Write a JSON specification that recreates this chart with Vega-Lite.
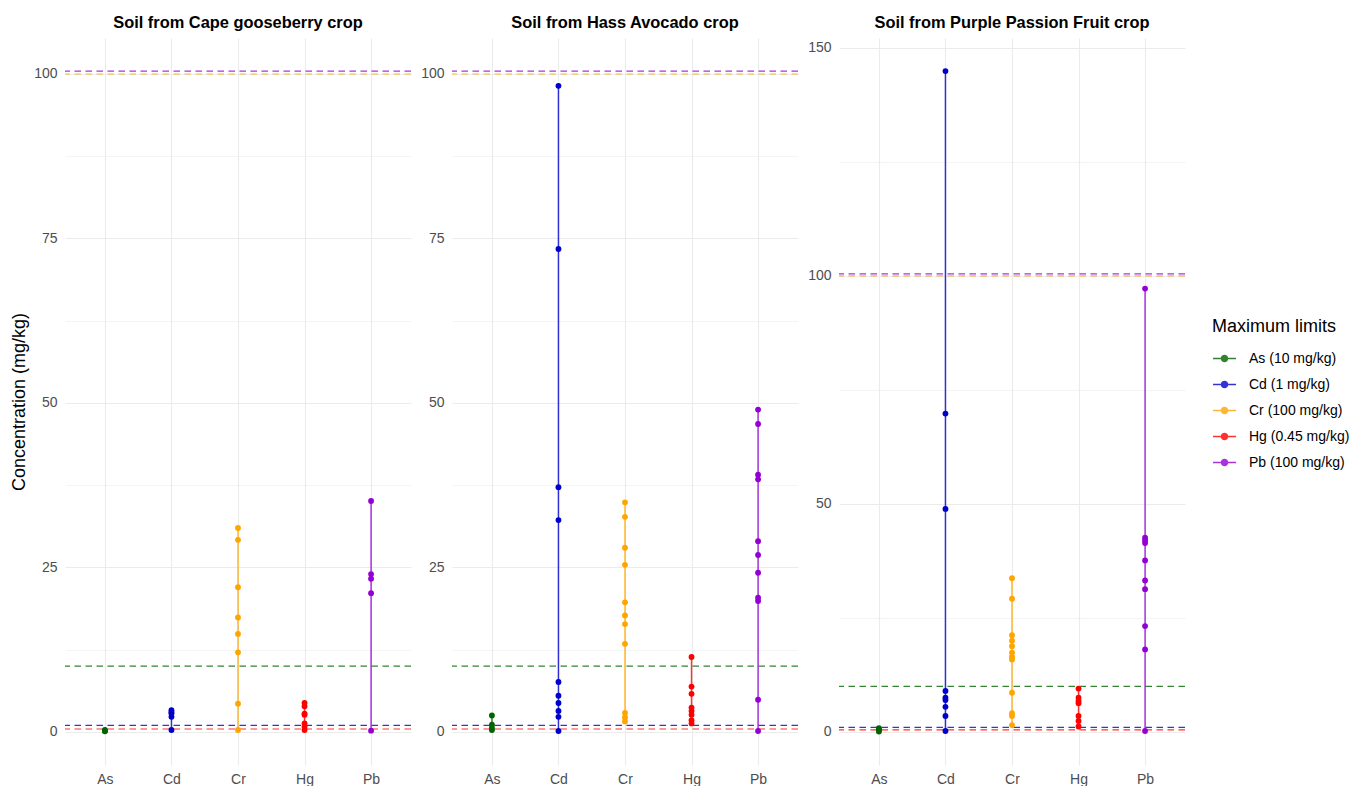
{
  "$schema": "https://vega.github.io/schema/vega-lite/v6.json",
  "background": "white",
  "padding": {"left": 10, "top": 14, "right": 0, "bottom": 0},
  "datasets": {
    "limits": [
      {"element": "As", "limit": 10},
      {"element": "Cd", "limit": 1},
      {"element": "Cr", "limit": 100},
      {"element": "Hg", "limit": 0.45},
      {"element": "Pb", "limit": 100.45}
    ],
    "samples": [
      {"crop": "Cape gooseberry", "element": "As", "value": 0.1},
      {"crop": "Cape gooseberry", "element": "As", "value": 0.2},
      {"crop": "Cape gooseberry", "element": "As", "value": 0.3},
      {"crop": "Cape gooseberry", "element": "Cd", "value": 3.3},
      {"crop": "Cape gooseberry", "element": "Cd", "value": 3.0},
      {"crop": "Cape gooseberry", "element": "Cd", "value": 2.8},
      {"crop": "Cape gooseberry", "element": "Cd", "value": 2.3},
      {"crop": "Cape gooseberry", "element": "Cd", "value": 0.3},
      {"crop": "Cape gooseberry", "element": "Cr", "value": 31.0},
      {"crop": "Cape gooseberry", "element": "Cr", "value": 29.2},
      {"crop": "Cape gooseberry", "element": "Cr", "value": 22.0},
      {"crop": "Cape gooseberry", "element": "Cr", "value": 17.4},
      {"crop": "Cape gooseberry", "element": "Cr", "value": 14.9},
      {"crop": "Cape gooseberry", "element": "Cr", "value": 12.1},
      {"crop": "Cape gooseberry", "element": "Cr", "value": 4.3},
      {"crop": "Cape gooseberry", "element": "Cr", "value": 0.3},
      {"crop": "Cape gooseberry", "element": "Hg", "value": 4.4},
      {"crop": "Cape gooseberry", "element": "Hg", "value": 3.9},
      {"crop": "Cape gooseberry", "element": "Hg", "value": 2.8},
      {"crop": "Cape gooseberry", "element": "Hg", "value": 2.6},
      {"crop": "Cape gooseberry", "element": "Hg", "value": 1.3},
      {"crop": "Cape gooseberry", "element": "Hg", "value": 0.8},
      {"crop": "Cape gooseberry", "element": "Hg", "value": 0.3},
      {"crop": "Cape gooseberry", "element": "Pb", "value": 35.1},
      {"crop": "Cape gooseberry", "element": "Pb", "value": 24.0},
      {"crop": "Cape gooseberry", "element": "Pb", "value": 23.3},
      {"crop": "Cape gooseberry", "element": "Pb", "value": 21.1},
      {"crop": "Cape gooseberry", "element": "Pb", "value": 0.2},
      {"crop": "Hass Avocado", "element": "As", "value": 2.5},
      {"crop": "Hass Avocado", "element": "As", "value": 1.1},
      {"crop": "Hass Avocado", "element": "As", "value": 0.6},
      {"crop": "Hass Avocado", "element": "As", "value": 0.3},
      {"crop": "Hass Avocado", "element": "Cd", "value": 98.2},
      {"crop": "Hass Avocado", "element": "Cd", "value": 73.4},
      {"crop": "Hass Avocado", "element": "Cd", "value": 37.2},
      {"crop": "Hass Avocado", "element": "Cd", "value": 32.2},
      {"crop": "Hass Avocado", "element": "Cd", "value": 7.6},
      {"crop": "Hass Avocado", "element": "Cd", "value": 5.5},
      {"crop": "Hass Avocado", "element": "Cd", "value": 4.4},
      {"crop": "Hass Avocado", "element": "Cd", "value": 3.2},
      {"crop": "Hass Avocado", "element": "Cd", "value": 2.3},
      {"crop": "Hass Avocado", "element": "Cd", "value": 0.15},
      {"crop": "Hass Avocado", "element": "Cr", "value": 34.9},
      {"crop": "Hass Avocado", "element": "Cr", "value": 32.7},
      {"crop": "Hass Avocado", "element": "Cr", "value": 28.0},
      {"crop": "Hass Avocado", "element": "Cr", "value": 25.4},
      {"crop": "Hass Avocado", "element": "Cr", "value": 19.7},
      {"crop": "Hass Avocado", "element": "Cr", "value": 17.7},
      {"crop": "Hass Avocado", "element": "Cr", "value": 16.4},
      {"crop": "Hass Avocado", "element": "Cr", "value": 13.4},
      {"crop": "Hass Avocado", "element": "Cr", "value": 2.9},
      {"crop": "Hass Avocado", "element": "Cr", "value": 2.2},
      {"crop": "Hass Avocado", "element": "Cr", "value": 1.6},
      {"crop": "Hass Avocado", "element": "Hg", "value": 11.4},
      {"crop": "Hass Avocado", "element": "Hg", "value": 6.9},
      {"crop": "Hass Avocado", "element": "Hg", "value": 5.8},
      {"crop": "Hass Avocado", "element": "Hg", "value": 3.7},
      {"crop": "Hass Avocado", "element": "Hg", "value": 3.2},
      {"crop": "Hass Avocado", "element": "Hg", "value": 2.6},
      {"crop": "Hass Avocado", "element": "Hg", "value": 1.8},
      {"crop": "Hass Avocado", "element": "Hg", "value": 1.3},
      {"crop": "Hass Avocado", "element": "Pb", "value": 49.0},
      {"crop": "Hass Avocado", "element": "Pb", "value": 46.8},
      {"crop": "Hass Avocado", "element": "Pb", "value": 39.1},
      {"crop": "Hass Avocado", "element": "Pb", "value": 38.4},
      {"crop": "Hass Avocado", "element": "Pb", "value": 29.0},
      {"crop": "Hass Avocado", "element": "Pb", "value": 26.9},
      {"crop": "Hass Avocado", "element": "Pb", "value": 24.2},
      {"crop": "Hass Avocado", "element": "Pb", "value": 20.4},
      {"crop": "Hass Avocado", "element": "Pb", "value": 19.9},
      {"crop": "Hass Avocado", "element": "Pb", "value": 4.9},
      {"crop": "Hass Avocado", "element": "Pb", "value": 0.15},
      {"crop": "Purple Passion Fruit", "element": "As", "value": 0.8},
      {"crop": "Purple Passion Fruit", "element": "As", "value": 0.5},
      {"crop": "Purple Passion Fruit", "element": "As", "value": 0.3},
      {"crop": "Purple Passion Fruit", "element": "As", "value": 0.1},
      {"crop": "Purple Passion Fruit", "element": "Cd", "value": 144.9},
      {"crop": "Purple Passion Fruit", "element": "Cd", "value": 69.8},
      {"crop": "Purple Passion Fruit", "element": "Cd", "value": 48.9},
      {"crop": "Purple Passion Fruit", "element": "Cd", "value": 9.0},
      {"crop": "Purple Passion Fruit", "element": "Cd", "value": 7.5},
      {"crop": "Purple Passion Fruit", "element": "Cd", "value": 7.0},
      {"crop": "Purple Passion Fruit", "element": "Cd", "value": 5.5},
      {"crop": "Purple Passion Fruit", "element": "Cd", "value": 3.5},
      {"crop": "Purple Passion Fruit", "element": "Cd", "value": 0.2},
      {"crop": "Purple Passion Fruit", "element": "Cr", "value": 33.7},
      {"crop": "Purple Passion Fruit", "element": "Cr", "value": 29.2},
      {"crop": "Purple Passion Fruit", "element": "Cr", "value": 21.2},
      {"crop": "Purple Passion Fruit", "element": "Cr", "value": 20.0},
      {"crop": "Purple Passion Fruit", "element": "Cr", "value": 18.8},
      {"crop": "Purple Passion Fruit", "element": "Cr", "value": 17.4},
      {"crop": "Purple Passion Fruit", "element": "Cr", "value": 16.5},
      {"crop": "Purple Passion Fruit", "element": "Cr", "value": 15.9},
      {"crop": "Purple Passion Fruit", "element": "Cr", "value": 8.6},
      {"crop": "Purple Passion Fruit", "element": "Cr", "value": 4.1},
      {"crop": "Purple Passion Fruit", "element": "Cr", "value": 3.5},
      {"crop": "Purple Passion Fruit", "element": "Cr", "value": 1.5},
      {"crop": "Purple Passion Fruit", "element": "Hg", "value": 9.5},
      {"crop": "Purple Passion Fruit", "element": "Hg", "value": 7.5},
      {"crop": "Purple Passion Fruit", "element": "Hg", "value": 6.8},
      {"crop": "Purple Passion Fruit", "element": "Hg", "value": 6.3},
      {"crop": "Purple Passion Fruit", "element": "Hg", "value": 3.5},
      {"crop": "Purple Passion Fruit", "element": "Hg", "value": 2.4},
      {"crop": "Purple Passion Fruit", "element": "Hg", "value": 1.2},
      {"crop": "Purple Passion Fruit", "element": "Pb", "value": 97.2},
      {"crop": "Purple Passion Fruit", "element": "Pb", "value": 42.6},
      {"crop": "Purple Passion Fruit", "element": "Pb", "value": 42.0},
      {"crop": "Purple Passion Fruit", "element": "Pb", "value": 41.4},
      {"crop": "Purple Passion Fruit", "element": "Pb", "value": 37.6},
      {"crop": "Purple Passion Fruit", "element": "Pb", "value": 33.2},
      {"crop": "Purple Passion Fruit", "element": "Pb", "value": 31.3},
      {"crop": "Purple Passion Fruit", "element": "Pb", "value": 23.2},
      {"crop": "Purple Passion Fruit", "element": "Pb", "value": 18.1},
      {"crop": "Purple Passion Fruit", "element": "Pb", "value": 0.2}
    ]
  },
  "spacing": 41,
  "bounds": "flush",
  "resolve": {"scale": {"y": "independent", "color": "shared"}},
  "hconcat": [
    {
      "width": 346, "height": 727,
      "title": {"text": "Soil from Cape gooseberry crop"},
      "layer": [
        {
          "data": {"name": "limits"},
          "mark": {"type": "rule", "strokeDash": [6.5, 4.5], "strokeWidth": 1.2, "opacity": 0.8},
          "encoding": {
            "y": {"field": "limit", "type": "quantitative", "scale": {"domain": [-5.02, 105.47], "nice": false, "zero": false},
              "axis": {"title": "Concentration (mg/kg)", "values": [0, 12.5, 25, 37.5, 50, 62.5, 75, 87.5, 100], "labelExpr": "datum.value % 25 == 0 ? datum.label : ''", "gridWidth": {"condition": {"test": "datum.value % 25 == 0", "value": 1.1}, "value": 0.55}, "labelPadding": 8, "titlePadding": 5}},
            "color": {"field": "element", "type": "nominal", "scale": {"domain": ["As", "Cd", "Cr", "Hg", "Pb"], "range": ["#006400", "#0000CD", "#FFA500", "#FF0000", "#9400D3"]},
              "legend": {"title": "Maximum limits", "orient": "none", "legendX": 1147, "legendY": 280, "symbolType": "M-1,0H1M0.26,0A0.26,0.26 0 1,1 -0.26,0A0.26,0.26 0 1,1 0.26,0Z", "symbolSize": 529, "symbolStrokeWidth": 1.5, "labelExpr": "datum.label == 'As' ? 'As (10 mg/kg)' : datum.label == 'Cd' ? 'Cd (1 mg/kg)' : datum.label == 'Cr' ? 'Cr (100 mg/kg)' : datum.label == 'Hg' ? 'Hg (0.45 mg/kg)' : 'Pb (100 mg/kg)'",
                "encode": {"symbols": {"update": {"fill": {"scale": "color", "field": "value"}, "stroke": {"scale": "color", "field": "value"}, "strokeDash": {"value": []}, "opacity": {"value": 1}}}}}}
          }
        },
        {
          "data": {"name": "samples"},
          "transform": [{"filter": "datum.crop == 'Cape gooseberry'"}],
          "mark": {"type": "rule", "strokeWidth": 1.5, "opacity": 0.8},
          "encoding": {
            "x": {"field": "element", "type": "nominal", "scale": {"type": "point", "padding": 0.6, "domain": ["As", "Cd", "Cr", "Hg", "Pb"]}, "axis": {"title": null, "labelAngle": 0, "grid": true, "labelPadding": 7}},
            "y": {"aggregate": "min", "field": "value", "type": "quantitative", "title": "Concentration (mg/kg)"},
            "y2": {"aggregate": "max", "field": "value"},
            "color": {"field": "element", "type": "nominal"}
          }
        },
        {
          "data": {"name": "samples"},
          "transform": [{"filter": "datum.crop == 'Cape gooseberry'"}],
          "mark": {"type": "circle", "size": 34, "opacity": 1},
          "encoding": {
            "x": {"field": "element", "type": "nominal"},
            "y": {"field": "value", "type": "quantitative", "title": "Concentration (mg/kg)"},
            "color": {"field": "element", "type": "nominal"}
          }
        }
      ]
    },
    {
      "width": 346, "height": 727,
      "title": {"text": "Soil from Hass Avocado crop"},
      "layer": [
        {
          "data": {"name": "limits"},
          "mark": {"type": "rule", "strokeDash": [6.5, 4.5], "strokeWidth": 1.2, "opacity": 0.8},
          "encoding": {
            "y": {"field": "limit", "type": "quantitative", "scale": {"domain": [-5.02, 105.47], "nice": false, "zero": false},
              "axis": {"title": null, "values": [0, 12.5, 25, 37.5, 50, 62.5, 75, 87.5, 100], "labelExpr": "datum.value % 25 == 0 ? datum.label : ''", "gridWidth": {"condition": {"test": "datum.value % 25 == 0", "value": 1.1}, "value": 0.55}, "labelPadding": 8}},
            "color": {"field": "element", "type": "nominal"}
          }
        },
        {
          "data": {"name": "samples"},
          "transform": [{"filter": "datum.crop == 'Hass Avocado'"}],
          "mark": {"type": "rule", "strokeWidth": 1.5, "opacity": 0.8},
          "encoding": {
            "x": {"field": "element", "type": "nominal", "scale": {"type": "point", "padding": 0.6, "domain": ["As", "Cd", "Cr", "Hg", "Pb"]}, "axis": {"title": null, "labelAngle": 0, "grid": true, "labelPadding": 7}},
            "y": {"aggregate": "min", "field": "value", "type": "quantitative", "title": null},
            "y2": {"aggregate": "max", "field": "value"},
            "color": {"field": "element", "type": "nominal"}
          }
        },
        {
          "data": {"name": "samples"},
          "transform": [{"filter": "datum.crop == 'Hass Avocado'"}],
          "mark": {"type": "circle", "size": 34, "opacity": 1},
          "encoding": {
            "x": {"field": "element", "type": "nominal"},
            "y": {"field": "value", "type": "quantitative", "title": null},
            "color": {"field": "element", "type": "nominal"}
          }
        }
      ]
    },
    {
      "width": 346, "height": 727,
      "title": {"text": "Soil from Purple Passion Fruit crop"},
      "layer": [
        {
          "data": {"name": "limits"},
          "mark": {"type": "rule", "strokeDash": [6.5, 4.5], "strokeWidth": 1.2, "opacity": 0.8},
          "encoding": {
            "y": {"field": "limit", "type": "quantitative", "scale": {"domain": [-7.25, 152.15], "nice": false, "zero": false},
              "axis": {"title": null, "values": [0, 25, 50, 75, 100, 125, 150], "labelExpr": "datum.value % 50 == 0 ? datum.label : ''", "gridWidth": {"condition": {"test": "datum.value % 50 == 0", "value": 1.1}, "value": 0.55}, "labelPadding": 8}},
            "color": {"field": "element", "type": "nominal"}
          }
        },
        {
          "data": {"name": "samples"},
          "transform": [{"filter": "datum.crop == 'Purple Passion Fruit'"}],
          "mark": {"type": "rule", "strokeWidth": 1.5, "opacity": 0.8},
          "encoding": {
            "x": {"field": "element", "type": "nominal", "scale": {"type": "point", "padding": 0.6, "domain": ["As", "Cd", "Cr", "Hg", "Pb"]}, "axis": {"title": null, "labelAngle": 0, "grid": true, "labelPadding": 7}},
            "y": {"aggregate": "min", "field": "value", "type": "quantitative", "title": null},
            "y2": {"aggregate": "max", "field": "value"},
            "color": {"field": "element", "type": "nominal"}
          }
        },
        {
          "data": {"name": "samples"},
          "transform": [{"filter": "datum.crop == 'Purple Passion Fruit'"}],
          "mark": {"type": "circle", "size": 34, "opacity": 1},
          "encoding": {
            "x": {"field": "element", "type": "nominal"},
            "y": {"field": "value", "type": "quantitative", "title": null},
            "color": {"field": "element", "type": "nominal"}
          }
        }
      ]
    }
  ],
  "config": {
    "font": "Liberation Sans",
    "view": {"stroke": null},
    "title": {"fontSize": 16.4, "fontWeight": "bold", "color": "#000000", "offset": 7, "anchor": "middle"},
    "axis": {"labelColor": "#4D4D4D", "labelFontSize": 14, "gridColor": "#EBEBEB", "gridWidth": 1.1, "domain": false, "ticks": false, "titleFontSize": 18, "titleColor": "#000000", "titleFontWeight": "normal"},
    "legend": {"titleFontSize": 18, "titleFontWeight": "normal", "titleColor": "#000000", "labelFontSize": 14, "labelColor": "#000000", "rowPadding": 6, "titlePadding": 10, "labelOffset": 12}
  }
}
